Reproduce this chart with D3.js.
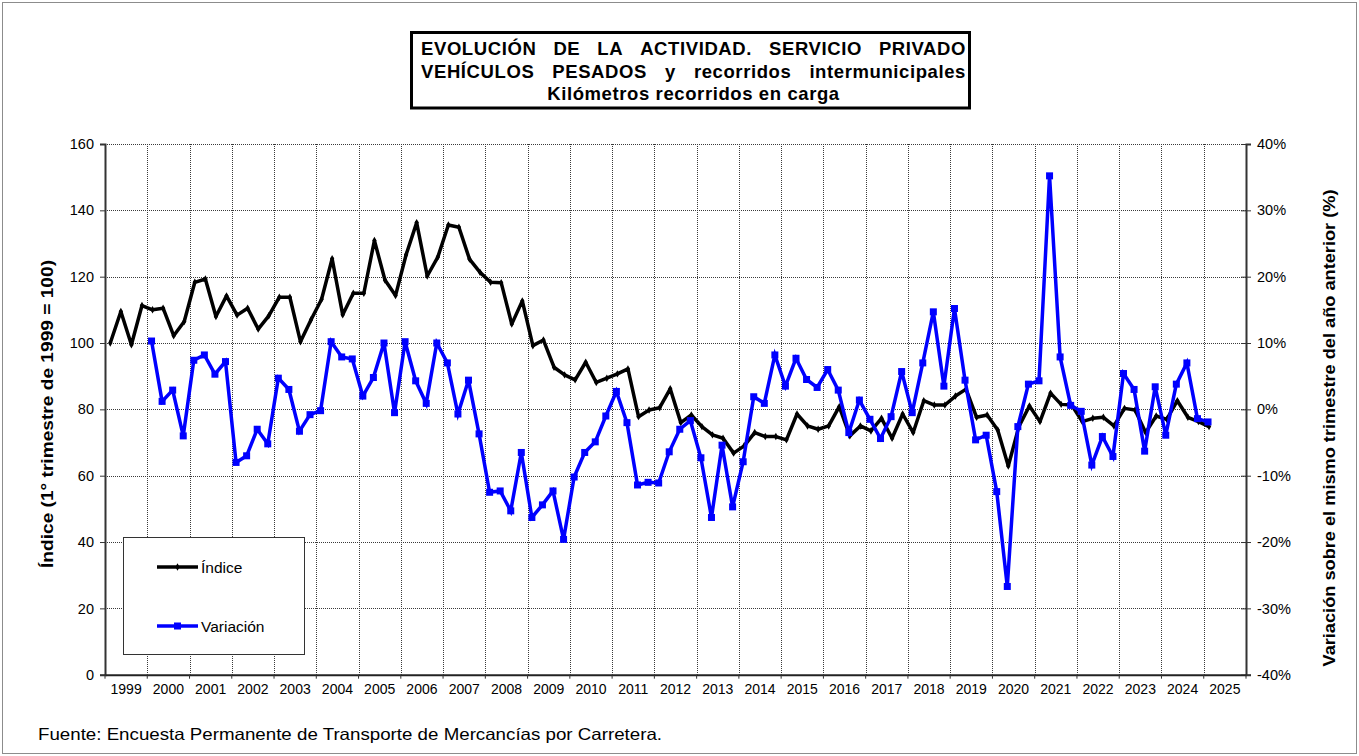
<!DOCTYPE html>
<html>
<head>
<meta charset="utf-8">
<script src="https://cdn.jsdelivr.net/npm/d3@7"></script>
<style>
  html, body { margin: 0; padding: 0; background: #fff; }
  svg { display: block; font-family: "Liberation Sans", Arial, sans-serif; }
</style>
</head>
<body>
<svg id="chart" width="1359" height="756"></svg>
<script>
// Years shown on the category axis (four quarters each)
const years = d3.range(1999, 2026);

// Índice (1° trimestre de 1999 = 100), quarterly from 1999-T1 to 2025-T1
const indice = [
  100.0, 109.5, 99.5, 111.3,
  110.0, 110.5, 102.2, 106.5,
  118.3, 119.3, 108.0, 114.2,
  108.4, 110.5, 104.2, 108.2,
  113.8, 113.8, 100.4, 107.0,
  113.2, 125.4, 108.5, 115.0,
  115.0, 130.9, 119.0, 114.3,
  126.6, 136.3, 120.2, 125.9,
  135.6, 134.9, 125.3, 121.3,
  118.3, 118.2, 105.7, 112.7,
  99.2, 100.9, 92.7, 90.4,
  88.9, 94.2, 88.1, 89.4,
  90.7, 92.2, 77.8, 79.8,
  80.5, 86.2, 76.0, 78.3,
  74.8, 72.3, 71.3, 66.8,
  69.0, 73.0, 71.8, 71.8,
  70.8, 78.6, 75.0, 74.0,
  75.0, 80.8, 72.0, 75.0,
  73.5, 77.3, 71.3, 78.6,
  73.0, 82.6, 81.3, 81.3,
  84.0, 86.1, 77.6, 78.3,
  73.8, 62.9, 74.8, 81.0,
  76.3, 84.9, 81.5, 81.3,
  76.3, 77.3, 77.6, 75.0,
  80.3, 79.8, 73.0, 78.0,
  77.0, 82.6, 77.6, 76.3,
  74.8
];

// Variación sobre el mismo trimestre del año anterior (%), from 2000-T1
const variacionStart = 4; // quarter index of 2000-T1
const variacion = [
  10.3, 1.2, 2.9, -4.0,
  7.4, 8.2, 5.3, 7.2,
  -8.0, -7.0, -3.0, -5.2,
  4.7, 3.0, -3.3, -0.8,
  -0.2, 10.2, 7.9, 7.6,
  2.0, 4.8, 10.0, -0.5,
  10.2, 4.3, 0.9, 10.0,
  7.0, -0.7, 4.4, -3.7,
  -12.5, -12.3, -15.3, -6.5,
  -16.3, -14.4, -12.3, -19.6,
  -10.2, -6.5, -4.9, -1.0,
  2.7, -2.0, -11.4, -11.0,
  -11.1, -6.4, -3.0, -1.7,
  -7.3, -16.3, -5.4, -14.7,
  -7.9, 1.9, 0.9, 8.2,
  3.5, 7.7, 4.5, 3.3,
  6.0, 2.9, -3.5, 1.4,
  -1.5, -4.4, -1.1, 5.7,
  -0.5, 7.0, 14.7, 3.5,
  15.2, 4.4, -4.6, -3.9,
  -12.4, -26.7, -2.6, 3.8,
  4.3, 35.2, 7.9, 0.6,
  -0.3, -8.4, -4.1, -7.1,
  5.4, 3.0, -6.3, 3.4,
  -3.9, 3.8, 7.0, -1.4,
  -1.9
];

const leftTicks = d3.range(0, 161, 20);
const rightTicks = d3.range(-40, 41, 10);

const svg = d3.select("#chart");

// Outer frame of the chart area
svg.append("rect")
  .attr("x", 2.5).attr("y", 2.5).attr("width", 1354).attr("height", 751)
  .attr("fill", "#fff").attr("stroke", "#8c8c8c").attr("stroke-width", 1);

const plot = { left: 105, right: 1246, top: 144, bottom: 674.7 };
const nSlots = years.length * 4;

const x = d3.scaleLinear().domain([0, nSlots]).range([plot.left, plot.right]);
const xq = i => x(i + 0.5);
const yL = d3.scaleLinear().domain([0, 160]).range([plot.bottom, plot.top]);
const yR = d3.scaleLinear().domain([-40, 40]).range([plot.bottom, plot.top]);
const xYear = d3.scaleBand().domain(years).range([plot.left, plot.right]);

// Gridlines
const grid = svg.append("g").attr("stroke", "#3a3a3a").attr("stroke-width", 1)
  .attr("stroke-dasharray", "1,1");
grid.selectAll("line.h").data(leftTicks.filter(d => d > 0)).join("line")
  .attr("x1", plot.left).attr("x2", plot.right)
  .attr("y1", d => Math.round(yL(d)) + 0.5).attr("y2", d => Math.round(yL(d)) + 0.5);
grid.selectAll("line.v").data(d3.range(4, nSlots, 4)).join("line")
  .attr("x1", d => Math.round(x(d)) + 0.5).attr("x2", d => Math.round(x(d)) + 0.5)
  .attr("y1", plot.top).attr("y2", plot.bottom);

// Left axis
const axL = svg.append("g").attr("transform", `translate(${plot.left},0)`)
  .call(d3.axisLeft(yL).tickValues(leftTicks).tickSize(5).tickPadding(6).tickFormat(d3.format("d")));
axL.select(".domain").attr("stroke", "#333").attr("stroke-width", 2);
axL.selectAll(".tick line").attr("stroke", "#333");
axL.selectAll(".tick text").attr("font-size", 14.5).attr("fill", "#000")
  .attr("font-family", "'Liberation Sans', Arial, sans-serif");

// Right axis
const axR = svg.append("g").attr("transform", `translate(${plot.right},0)`)
  .call(d3.axisRight(yR).tickValues(rightTicks).tickSize(5).tickPadding(6)
    .tickFormat(d => d + "%"));
axR.select(".domain").attr("stroke", "#333").attr("stroke-width", 2);
axR.selectAll(".tick line").attr("stroke", "#333").attr("x1", -5);
axR.selectAll(".tick text").attr("font-size", 14.5).attr("fill", "#000")
  .attr("font-family", "'Liberation Sans', Arial, sans-serif");

// Bottom axis with year labels centred on each year
const axB = svg.append("g").attr("transform", `translate(0,${plot.bottom})`)
  .call(d3.axisBottom(xYear).tickSize(0).tickPadding(9));
axB.select(".domain").attr("stroke", "#222").attr("stroke-width", 2);
axB.selectAll(".tick text").attr("font-size", 14).attr("fill", "#000")
  .attr("font-family", "'Liberation Sans', Arial, sans-serif");
axB.selectAll("line.yt").data(d3.range(0, nSlots + 1, 4)).join("line")
  .attr("class", "yt")
  .attr("x1", d => x(d)).attr("x2", d => x(d))
  .attr("y1", 0).attr("y2", 4).attr("stroke", "#333");

// Series lines
const lineIdx = d3.line().x((d, i) => xq(i)).y(d => yL(d));
svg.append("path").datum(indice)
  .attr("d", lineIdx).attr("fill", "none").attr("stroke", "#000")
  .attr("stroke-width", 3.5).attr("stroke-linejoin", "round");
svg.append("g").selectAll("path").data(indice).join("path")
  .attr("d", d3.symbol(d3.symbolDiamond, 16))
  .attr("transform", (d, i) => `translate(${xq(i)},${yL(d)})`)
  .attr("fill", "#000");

const lineVar = d3.line().x((d, i) => xq(i + variacionStart) - 1).y(d => yR(d));
svg.append("path").datum(variacion)
  .attr("d", lineVar).attr("fill", "none").attr("stroke", "#0000ff")
  .attr("stroke-width", 3.5).attr("stroke-linejoin", "miter");
svg.append("g").selectAll("rect").data(variacion).join("rect")
  .attr("x", (d, i) => xq(i + variacionStart) - 1 - 3.5)
  .attr("y", d => yR(d) - 3.5)
  .attr("width", 7).attr("height", 7).attr("fill", "#0000ff");

// Legend
const lg = svg.append("g");
lg.append("rect").attr("x", 123.5).attr("y", 537.5).attr("width", 181).attr("height", 117)
  .attr("fill", "#fff").attr("stroke", "#333").attr("stroke-width", 1);
lg.append("line").attr("x1", 157).attr("x2", 198).attr("y1", 567).attr("y2", 567)
  .attr("stroke", "#000").attr("stroke-width", 3.5);
lg.append("path").attr("d", d3.symbol(d3.symbolDiamond, 16))
  .attr("transform", "translate(177.5,567)").attr("fill", "#000");
lg.append("text").attr("x", 201).attr("y", 572.5).attr("font-size", 15.5).text("Índice");
lg.append("line").attr("x1", 157).attr("x2", 198).attr("y1", 626).attr("y2", 626)
  .attr("stroke", "#0000ff").attr("stroke-width", 3.5);
lg.append("rect").attr("x", 174).attr("y", 622.5).attr("width", 7).attr("height", 7)
  .attr("fill", "#0000ff");
lg.append("text").attr("x", 201).attr("y", 631.5).attr("font-size", 15.5).text("Variación");

// Axis titles
svg.append("text")
  .attr("transform", "translate(53,414) rotate(-90)")
  .attr("text-anchor", "middle").attr("font-size", 16).attr("font-weight", "bold")
  .attr("textLength", 308).attr("lengthAdjust", "spacingAndGlyphs")
  .text("Índice (1° trimestre de 1999 = 100)");
svg.append("text")
  .attr("transform", "translate(1335,428) rotate(-90)")
  .attr("text-anchor", "middle").attr("font-size", 16).attr("font-weight", "bold")
  .attr("textLength", 477).attr("lengthAdjust", "spacingAndGlyphs")
  .text("Variación sobre el mismo trimestre del año anterior (%)");

// Title box
svg.append("rect").attr("x", 411.5).attr("y", 32.5).attr("width", 558).attr("height", 75.5)
  .attr("fill", "#fff").attr("stroke", "#000").attr("stroke-width", 3);

const titleLines = [
  { words: ["EVOLUCIÓN", "DE", "LA", "ACTIVIDAD.", "SERVICIO", "PRIVADO"], y: 54.5, justify: true },
  { words: ["VEHÍCULOS", "PESADOS", "y", "recorridos", "intermunicipales"], y: 77.5, justify: true },
  { words: ["Kilómetros recorridos en carga"], y: 100, justify: false }
];
const tx0 = 421, tx1 = 966;
titleLines.forEach(line => {
  const g = svg.append("g").attr("font-size", 18.5).attr("font-weight", "bold")
    .attr("letter-spacing", 0.6);
  if (!line.justify) {
    g.append("text").attr("x", (tx0 + tx1) / 2).attr("y", line.y)
      .attr("text-anchor", "middle").text(line.words[0]);
    return;
  }
  const nodes = line.words.map(w => g.append("text").attr("y", line.y).text(w));
  const widths = nodes.map(n => n.node().getBBox().width);
  const gap = (tx1 - tx0 - d3.sum(widths)) / (line.words.length - 1);
  let cx = tx0;
  nodes.forEach((n, i) => { n.attr("x", cx); cx += widths[i] + gap; });
});

// Source note
svg.append("text").attr("x", 38).attr("y", 740).attr("font-size", 16.5)
  .attr("textLength", 624).attr("lengthAdjust", "spacingAndGlyphs")
  .text("Fuente: Encuesta Permanente de Transporte de Mercancías por Carretera.");
</script>
</body>
</html>
